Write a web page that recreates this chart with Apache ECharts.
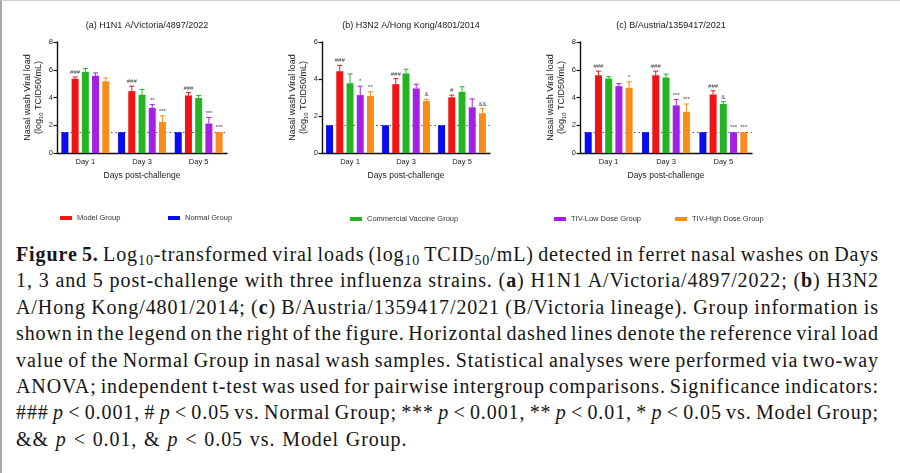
<!DOCTYPE html>
<html>
<head>
<meta charset="utf-8">
<script src="https://cdn.jsdelivr.net/npm/echarts@6/dist/echarts.min.js"></script>
<style>
  body { margin: 0; background: #fff; }
  #frame { position: relative; width: 900px; height: 473px; overflow: hidden; background: #fff; }
  #chart { position: absolute; left: 0; top: 0; width: 900px; height: 240px; }
  #edge { position: absolute; left: 0; top: 0; width: 900px; height: 473px; box-sizing: border-box;
          border-left: 2px solid #a8a8a8; border-top: 1px solid #cfcfcf; pointer-events: none; }
  #caption { position: absolute; left: 16px; top: 241px; width: 863px; color: #151515;
             font-family: 'Liberation Serif', serif; font-size: 20px; line-height: 26.4px; letter-spacing: 0.9px; }
  #caption .ln { height: 26.4px; white-space: nowrap; }
  #caption .ln span.t { display: inline-block; white-space: nowrap; }
  #caption sub { font-size: 0.7em; line-height: 0; vertical-align: -0.28em; }
</style>
</head>
<body>
<div id="frame">
  <div id="chart"></div>
  <div id="caption">
    <div class="ln"><span class="t"><b>Figure 5.</b> Log<sub>10</sub>-transformed viral loads (log<sub>10</sub> TCID<sub>50</sub>/mL) detected in ferret nasal washes on Days</span></div>
    <div class="ln"><span class="t">1, 3 and 5 post-challenge with three influenza strains. (<b>a</b>) H1N1 A/Victoria/4897/2022; (<b>b</b>) H3N2</span></div>
    <div class="ln"><span class="t">A/Hong Kong/4801/2014; (<b>c</b>) B/Austria/1359417/2021 (B/Victoria lineage). Group information is</span></div>
    <div class="ln"><span class="t">shown in the legend on the right of the figure. Horizontal dashed lines denote the reference viral load</span></div>
    <div class="ln"><span class="t">value of the Normal Group in nasal wash samples. Statistical analyses were performed via two-way</span></div>
    <div class="ln"><span class="t">ANOVA; independent t-test was used for pairwise intergroup comparisons. Significance indicators:</span></div>
    <div class="ln"><span class="t">### <i>p</i> &lt; 0.001, # <i>p</i> &lt; 0.05 vs. Normal Group; *** <i>p</i> &lt; 0.001, ** <i>p</i> &lt; 0.01, * <i>p</i> &lt; 0.05 vs. Model Group;</span></div>
    <div class="ln"><span class="t last">&amp;&amp; <i>p</i> &lt; 0.01, &amp; <i>p</i> &lt; 0.05 vs. Model Group.</span></div>
  </div>
  <div id="edge"></div>
</div>
<script>
// data
var days = ['Day 1', 'Day 3', 'Day 5'];
var groupNames = ['Normal Group', 'Model Group', 'Commercial Vaccine Group', 'TIV-Low Dose Group', 'TIV-High Dose Group'];
var groupColors = ['#0b0bf2', '#f21414', '#22b422', '#a420e8', '#fa8c1e'];
var panelTitles = ['(a) H1N1 A/Victoria/4897/2022', '(b) H3N2 A/Hong Kong/4801/2014', '(c) B/Austria/1359417/2021'];
var yMax = [8, 6, 8];
var refLoad = 1.5;

// rows = groups (Normal, Model, Commercial, TIV-Low, TIV-High), cols = days
var h1n1Mean = [
  [1.5, 1.5, 1.5],
  [5.35, 4.46, 4.15],
  [5.85, 4.2, 3.96],
  [5.57, 3.25, 2.12],
  [5.17, 2.23, 1.52]
];
var h1n1Err = [
  [0, 0, 0],
  [0.13, 0.35, 0.2],
  [0.24, 0.38, 0.18],
  [0.2, 0.24, 0.44],
  [0.24, 0.45, 0]
];
var h1n1Marks = [
  ['', '', ''],
  ['###', '###', '###'],
  ['', '', ''],
  ['', '**', '***'],
  ['', '***', '***']
];

var h3n2Mean = [
  [1.5, 1.5, 1.5],
  [4.42, 3.72, 3.01],
  [3.77, 4.3, 3.31],
  [3.13, 3.49, 2.47],
  [3.08, 2.81, 2.15]
];
var h3n2Err = [
  [0, 0, 0],
  [0.32, 0.3, 0.12],
  [0.5, 0.23, 0.27],
  [0.48, 0.23, 0.45],
  [0.23, 0.1, 0.26]
];
var h3n2Marks = [
  ['', '', ''],
  ['###', '###', '#'],
  ['', '', ''],
  ['*', '', ''],
  ['**', '&', '&&']
];

var bvicMean = [
  [1.5, 1.5, 1.5],
  [5.6, 5.6, 4.22],
  [5.37, 5.44, 3.53],
  [4.82, 3.43, 1.5],
  [4.7, 2.97, 1.5]
];
var bvicErr = [
  [0, 0, 0],
  [0.3, 0.3, 0.26],
  [0.13, 0.24, 0.17],
  [0.18, 0.43, 0],
  [0.43, 0.56, 0]
];
var bvicMarks = [
  ['', '', ''],
  ['###', '###', '###'],
  ['', '', '&'],
  ['', '***', '***'],
  ['*', '***', '***']
];

var means = [h1n1Mean, h3n2Mean, bvicMean];
var errs = [h1n1Err, h3n2Err, bvicErr];
var marks = [h1n1Marks, h3n2Marks, bvicMarks];

var FONT = 'Liberation Sans';
var BAR_W = 7, BAR_GAP = 0.46;

var gridBoxes = [
  { left: 57, top: 42, width: 170, height: 111 },
  { left: 322, top: 42, width: 168, height: 111 },
  { left: 580, top: 42, width: 172, height: 111 }
];
var legendSpots = [
  { name: 'Model Group', left: 60, top: 214 },
  { name: 'Normal Group', left: 168, top: 214 },
  { name: 'Commercial Vaccine Group', left: 350, top: 215 },
  { name: 'TIV-Low Dose Group', left: 554, top: 215 },
  { name: 'TIV-High Dose Group', left: 675, top: 215 }
];

function barOffset(g) {
  var gap = BAR_W * BAR_GAP;
  var total = 5 * BAR_W + 4 * gap;
  return -total / 2 + g * (BAR_W + gap) + BAR_W / 2;
}

var chart = echarts.init(document.getElementById('chart'));

var grid = [], xAxis = [], yAxis = [], title = [], series = [];
gridBoxes.forEach(function (box, p) {
  grid.push({ left: box.left, top: box.top, width: box.width, height: box.height, containLabel: false });
  title.push({
    text: panelTitles[p], left: box.left + box.width / 2, top: 16, textAlign: 'center',
    textStyle: { fontFamily: FONT, fontSize: 9, fontWeight: 'normal', color: '#1a1a1a' }
  });
  xAxis.push({
    type: 'category', gridIndex: p, data: days,
    name: 'Days post-challenge', nameLocation: 'middle', nameGap: 18,
    nameTextStyle: { fontFamily: FONT, fontSize: 8.5, color: '#1a1a1a' },
    axisLine: { lineStyle: { color: '#111', width: 1.4 } },
    axisTick: { alignWithLabel: true, length: 3.5, lineStyle: { color: '#111', width: 1.2 } },
    axisLabel: { fontFamily: FONT, fontSize: 7.5, color: '#222', margin: 5 }
  });
  yAxis.push({
    type: 'value', gridIndex: p, min: 0, max: yMax[p], interval: 2,
    name: '{a|Nasal wash Viral load}\n{a|(log}{s|10}{a| TCID50/mL)}',
    nameLocation: 'middle', nameGap: 13,
    nameTextStyle: {
      fontFamily: FONT, fontSize: 9, color: '#1a1a1a', lineHeight: 11,
      rich: {
        a: { fontFamily: FONT, fontSize: 9, color: '#1a1a1a', lineHeight: 11 },
        s: { fontFamily: FONT, fontSize: 6, color: '#1a1a1a', lineHeight: 11, verticalAlign: 'bottom' }
      }
    },
    axisLine: { show: true, lineStyle: { color: '#111', width: 1.4 } },
    axisTick: { show: true, length: 3.5, lineStyle: { color: '#111', width: 1.2 } },
    axisLabel: { fontFamily: FONT, fontSize: 7.5, color: '#222', margin: 4 },
    splitLine: { show: false }
  });

  groupNames.forEach(function (name, g) {
    var s = {
      name: name, type: 'bar', xAxisIndex: p, yAxisIndex: p,
      data: means[p][g], barWidth: BAR_W, barGap: (BAR_GAP * 100) + '%',
      itemStyle: { color: groupColors[g] }, silent: true, animation: false
    };
    if (g === 0) {
      s.markLine = {
        silent: true, symbol: 'none', animation: false, z: 1,
        label: { show: false },
        lineStyle: { type: [1.5, 3], color: '#555', width: 1 },
        data: [{ yAxis: refLoad }]
      };
    }
    series.push(s);
  });

  // error bars and significance marks
  var items = [];
  for (var g = 0; g < 5; g++) {
    for (var d = 0; d < days.length; d++) {
      if (errs[p][g][d] > 0 || marks[p][g][d]) {
        items.push({ d: d, g: g, mean: means[p][g][d], err: errs[p][g][d], mark: marks[p][g][d] });
      }
    }
  }
  series.push({
    type: 'custom', xAxisIndex: p, yAxisIndex: p, silent: true, animation: false, z: 5,
    data: items.map(function (it) { return [it.d, it.mean, it.err, it.g]; }),
    renderItem: function (params, api) {
      var it = items[params.dataIndex];
      var x = api.coord([it.d, 0])[0] + barOffset(it.g);
      var y0 = api.coord([it.d, it.mean])[1];
      var y1 = api.coord([it.d, it.mean + it.err])[1];
      var col = groupColors[it.g];
      var children = [];
      if (it.err > 0) {
        children.push({ type: 'line', shape: { x1: x, y1: y0, x2: x, y2: y1 }, style: { stroke: col, lineWidth: 1 } });
        children.push({ type: 'line', shape: { x1: x - 2.5, y1: y1, x2: x + 2.5, y2: y1 }, style: { stroke: col, lineWidth: 1 } });
      }
      if (it.mark) {
        children.push({
          type: 'text', x: x, y: y1 - 1.5,
          style: { text: it.mark, align: 'center', verticalAlign: 'bottom', fontSize: 6, fontFamily: FONT, fill: '#444' }
        });
      }
      return { type: 'group', children: children };
    }
  });
});

var legend = legendSpots.map(function (l) {
  return {
    data: [{ name: l.name, icon: 'rect' }], left: l.left, top: l.top, padding: 0,
    itemWidth: 12, itemHeight: 4, selectedMode: false,
    textStyle: { fontFamily: FONT, fontSize: 7.5, color: '#333' }
  };
});

chart.setOption({
  animation: false,
  backgroundColor: '#fff',
  title: title,
  legend: legend,
  grid: grid,
  xAxis: xAxis,
  yAxis: yAxis,
  series: series
});

// stretch each caption line (except the last) to the full measure
function fitCaption() {
  var target = 863;
  document.querySelectorAll('#caption span.t').forEach(function (sp) {
    if (sp.classList.contains('last')) { sp.style.wordSpacing = '1px'; return; }
    sp.style.wordSpacing = '0px';
    var w = sp.getBoundingClientRect().width;
    var n = (sp.textContent.match(/ /g) || []).length;
    if (n > 0) sp.style.wordSpacing = ((target - w) / n) + 'px';
  });
}
fitCaption();
if (document.fonts && document.fonts.ready) document.fonts.ready.then(fitCaption);
</script>
</body>
</html>
